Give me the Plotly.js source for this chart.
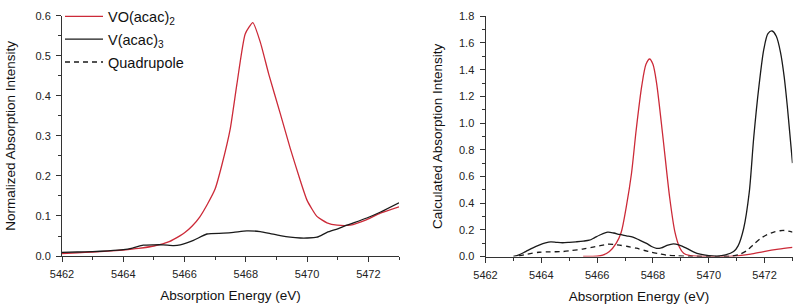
<!DOCTYPE html>
<html>
<head>
<meta charset="utf-8">
<script src="https://cdn.plot.ly/plotly-3.0.1.min.js"></script>
<style>html,body{margin:0;padding:0;background:#fff;}#chart{width:793px;height:306px;}</style>
</head>
<body>
<div id="chart"></div>
<script>
// Left panel: measured spectra
const leftVOx = [5462,5462.5,5463,5463.5,5464,5464.5,5465,5465.5,5465.86,5466,5466.25,5466.5,5466.75,5467,5467.22,5467.49,5467.71,5467.98,5468.23,5468.47,5468.75,5469.12,5469.45,5469.78,5470.0,5470.32,5470.65,5470.98,5471.41,5471.95,5472.39,5473];
const leftVOy = [0.006,0.008,0.010,0.012,0.015,0.019,0.025,0.036,0.051,0.058,0.075,0.098,0.13,0.168,0.228,0.317,0.43,0.555,0.583,0.535,0.454,0.357,0.269,0.188,0.139,0.099,0.083,0.077,0.077,0.091,0.107,0.123];
const leftVx = [5462,5462.5,5463,5463.5,5464,5464.3,5464.65,5465,5465.3,5465.65,5465.86,5466.29,5466.73,5467.27,5467.6,5468.03,5468.47,5468.8,5469.12,5469.45,5469.78,5470.0,5470.32,5470.65,5471.0,5471.3,5471.95,5472.4,5473];
const leftVy = [0.009,0.010,0.011,0.013,0.016,0.020,0.027,0.028,0.028,0.026,0.028,0.039,0.055,0.057,0.059,0.063,0.061,0.056,0.051,0.047,0.045,0.045,0.047,0.059,0.068,0.077,0.095,0.11,0.133];

// Right panel: calculated spectra
const rightVOx = [5465.5,5466.0,5466.2,5466.44,5466.68,5466.86,5467.05,5467.23,5467.4,5467.6,5467.75,5467.88,5468.0,5468.13,5468.36,5468.6,5468.79,5468.95,5469.1,5469.3,5469.6,5470.0,5470.5,5471.0,5471.5,5471.97,5472.5,5473.0];
const rightVOy = [0.0,0.002,0.01,0.037,0.098,0.18,0.38,0.62,0.95,1.28,1.44,1.48,1.44,1.3,0.89,0.44,0.18,0.07,0.025,0.008,0.002,0.0,0.0,0.005,0.018,0.037,0.055,0.068];
const rightVx = [5463.0,5463.2,5463.44,5463.7,5463.92,5464.15,5464.34,5464.55,5464.76,5465.0,5465.24,5465.5,5465.72,5465.9,5466.08,5466.38,5466.6,5466.8,5467.05,5467.28,5467.5,5467.77,5467.95,5468.13,5468.3,5468.5,5468.73,5468.95,5469.21,5469.45,5469.69,5470.0,5470.29,5470.6,5470.89,5471.05,5471.25,5471.45,5471.61,5471.8,5471.97,5472.12,5472.27,5472.42,5472.57,5472.7,5472.81,5472.9,5473.0];
const rightVy = [0.0,0.012,0.037,0.065,0.085,0.102,0.11,0.106,0.103,0.106,0.11,0.115,0.122,0.14,0.159,0.183,0.176,0.165,0.155,0.145,0.125,0.098,0.075,0.061,0.065,0.083,0.095,0.085,0.061,0.035,0.017,0.006,0.003,0.012,0.037,0.08,0.21,0.48,0.89,1.28,1.55,1.67,1.69,1.65,1.53,1.35,1.135,0.93,0.70];
const quadx = [5463.2,5463.5,5463.92,5464.3,5464.76,5465.1,5465.48,5465.8,5466.08,5466.38,5466.6,5466.8,5467.1,5467.41,5467.7,5467.95,5468.24,5468.5,5468.84,5469.3,5470.0,5470.8,5471.1,5471.37,5471.6,5471.85,5472.1,5472.33,5472.55,5472.69,5472.85,5473.0];
const quady = [0.005,0.018,0.032,0.035,0.037,0.045,0.056,0.068,0.08,0.092,0.09,0.085,0.075,0.062,0.045,0.032,0.02,0.01,0.005,0.001,0.0,0.002,0.015,0.045,0.09,0.134,0.165,0.183,0.193,0.195,0.19,0.183];

const seriesNames = ['VO(acac)<sub>2</sub>', 'V(acac)<sub>3</sub>', 'Quadrupole'];
const xTitle = 'Absorption Energy (eV)';
const yTitleLeft = 'Normalized Absorption Intensity';
const yTitleRight = 'Calculated Absorption Intensity';

const RED = '#cc2a38';
const BLK = '#1a1a1a';
const FONT = 'Liberation Sans, Arial, sans-serif';

const traces = [
  {x: leftVOx, y: leftVOy, xaxis:'x', yaxis:'y', mode:'lines', name: seriesNames[0], legendgroup:'a', line:{color:RED, width:1.3, shape:'spline', smoothing:0.5}, showlegend:true},
  {x: leftVx, y: leftVy, xaxis:'x', yaxis:'y', mode:'lines', name: seriesNames[1], legendgroup:'b', line:{color:BLK, width:1.3, shape:'spline', smoothing:0.6}, showlegend:true},
  {x: rightVOx, y: rightVOy, xaxis:'x2', yaxis:'y2', mode:'lines', name: seriesNames[0], legendgroup:'a', line:{color:RED, width:1.3, shape:'spline', smoothing:0.8}, showlegend:false},
  {x: rightVx, y: rightVy, xaxis:'x2', yaxis:'y2', mode:'lines', name: seriesNames[1], legendgroup:'b', line:{color:BLK, width:1.3, shape:'spline', smoothing:0.8}, showlegend:false},
  {x: quadx, y: quady, xaxis:'x2', yaxis:'y2', mode:'lines', name: seriesNames[2], legendgroup:'c', line:{color:BLK, width:1.3, dash:'5px,4px', shape:'spline', smoothing:0.8}, showlegend:true}
];

const W = 793, H = 306;
function axX(dom, anchor){
  return {domain: dom, anchor: anchor, range:[5462,5473], dtick:2, tick0:5462, ticks:'outside', ticklen:5, tickwidth:1, tickcolor:'#333',
    showline:true, linecolor:'#333', linewidth:1, showgrid:false, zeroline:false, ticklabelstandoff:3,
    tickfont:{family:FONT, size:11, color:'#222'},
    minor:{dtick:1, ticks:'outside', ticklen:3, tickcolor:'#333', showgrid:false},
    title:{text:xTitle, font:{family:FONT, size:13.5, color:'#111'}, standoff:11}};
}
function axY(dom, anchor, range, dt, title, so){
  return {domain: dom, anchor: anchor, range: range, dtick: dt, tick0:0, tickformat:'.1f', ticks:'outside', ticklen:5, tickwidth:1, tickcolor:'#333',
    showline:true, linecolor:'#333', linewidth:1, showgrid:false, zeroline:false, ticklabelstandoff:3,
    tickfont:{family:FONT, size:11, color:'#222'},
    minor:{dtick: dt/2, ticks:'outside', ticklen:3, tickcolor:'#333', showgrid:false},
    title:{text:title, font:{family:FONT, size:13.5, color:'#111'}, standoff:so}};
}

const layout = {
  width: W, height: H,
  margin:{l:0, r:0, t:0, b:0},
  paper_bgcolor:'#fff', plot_bgcolor:'#fff',
  showlegend:true,
  legend:{x:60/W, y:1.029, xanchor:'left', yanchor:'top', bgcolor:'rgba(0,0,0,0)', font:{family:FONT, size:14.5, color:'#111'}, traceorder:'grouped', tracegroupgap:1, itemwidth:38},
  xaxis: axX([62/W, 399/W], 'y'),
  yaxis: axY([(H-254.5)/H, (H-7)/H], 'x', [0,0.6002], 0.1, yTitleLeft, 16),
  xaxis2: axX([485.5/W, 792.5/W], 'y2'),
  yaxis2: axY([(H-255)/H, (H-7.5)/H], 'x2', [0,1.8002], 0.2, yTitleRight, 13)
};

Plotly.newPlot('chart', traces, layout, {staticPlot:true, displayModeBar:false});
</script>
</body>
</html>
